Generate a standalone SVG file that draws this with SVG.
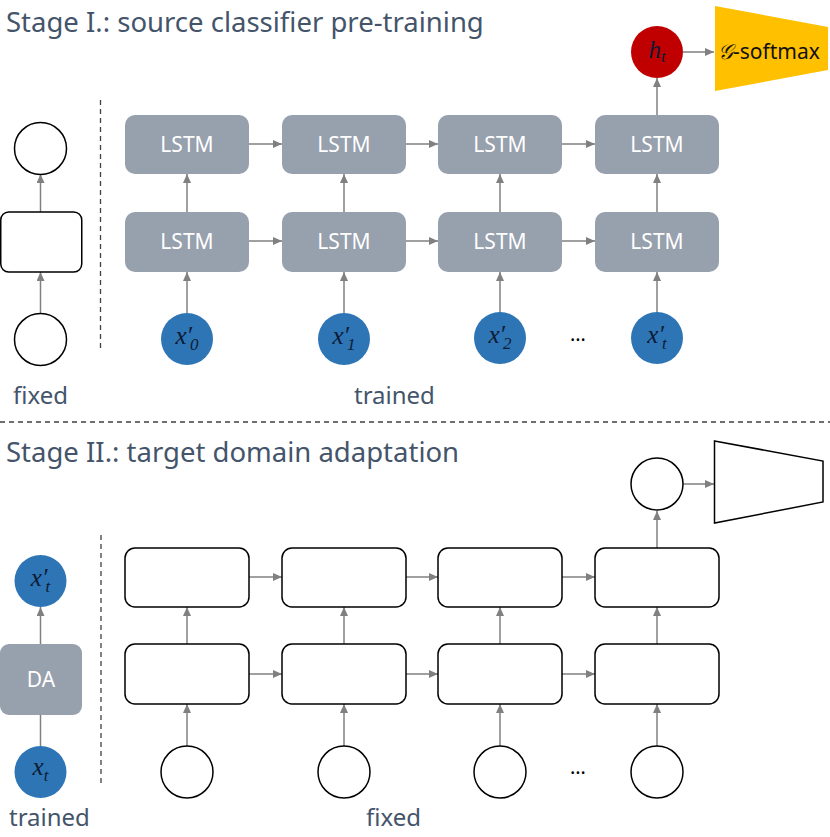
<svg xmlns="http://www.w3.org/2000/svg" width="830" height="837" viewBox="0 0 830 837">
<style>
.title{font-family:"Noto Sans","Open Sans",sans-serif;font-size:27.5px;fill:#44546a}
.lab{font-family:"Noto Sans","Open Sans",sans-serif;font-size:24px;fill:#44546a}
.box{fill:#97a0ad}
.obox{fill:#fff;stroke:#000;stroke-width:1.5}
.btxt{font-family:"Noto Sans","Open Sans",sans-serif;font-size:21px;fill:#fff;text-anchor:middle}
.blue{fill:#2e75b6}
.ocirc{fill:#fff;stroke:#000;stroke-width:1.5}
.math{font-family:"Liberation Serif","DejaVu Serif",serif;font-style:italic;font-size:25px;fill:#0d1a33;text-anchor:middle}
.sub{font-size:17px}
.conn line{stroke:#808080;stroke-width:1.5}
.dash{stroke:#404040;stroke-width:1.3;stroke-dasharray:5 4}
.dots{font-family:"Noto Sans",sans-serif;font-size:20px;fill:#000;text-anchor:middle}
</style>
<defs>
<marker id="ah" markerUnits="userSpaceOnUse" markerWidth="10" markerHeight="8" refX="9" refY="4" orient="auto">
<path d="M0,0 L9,4 L0,8 z" fill="#808080"/>
</marker>
</defs>
<rect width="830" height="837" fill="#fff"/>

<text class="title" x="6" y="32">Stage I.: source classifier pre-training</text>
<text class="title" x="6" y="462">Stage II.: target domain adaptation</text>
<line class="dash" x1="0" y1="422" x2="830" y2="422"/>
<line class="dash" x1="100.5" y1="100" x2="100.5" y2="348"/>
<line class="dash" x1="101" y1="535" x2="101" y2="783"/>

<g class="conn">
<line x1="40.5" y1="313" x2="40.5" y2="272" marker-end="url(#ah)"/>
<line x1="40.5" y1="212" x2="40.5" y2="174" marker-end="url(#ah)"/>
<line x1="187" y1="313" x2="187" y2="272" marker-end="url(#ah)"/>
<line x1="344" y1="313" x2="344" y2="272" marker-end="url(#ah)"/>
<line x1="500" y1="313" x2="500" y2="272" marker-end="url(#ah)"/>
<line x1="657" y1="313" x2="657" y2="272" marker-end="url(#ah)"/>
<line x1="187" y1="212" x2="187" y2="174" marker-end="url(#ah)"/>
<line x1="344" y1="212" x2="344" y2="174" marker-end="url(#ah)"/>
<line x1="500" y1="212" x2="500" y2="174" marker-end="url(#ah)"/>
<line x1="657" y1="212" x2="657" y2="174" marker-end="url(#ah)"/>
<line x1="249" y1="144" x2="282" y2="144" marker-end="url(#ah)"/>
<line x1="406" y1="144" x2="438" y2="144" marker-end="url(#ah)"/>
<line x1="562" y1="144" x2="595" y2="144" marker-end="url(#ah)"/>
<line x1="249" y1="241" x2="282" y2="241" marker-end="url(#ah)"/>
<line x1="406" y1="241" x2="438" y2="241" marker-end="url(#ah)"/>
<line x1="562" y1="241" x2="595" y2="241" marker-end="url(#ah)"/>
<line x1="657" y1="115" x2="657" y2="78" marker-end="url(#ah)"/>
<line x1="683" y1="52" x2="714" y2="52" marker-end="url(#ah)"/>

<line x1="40.5" y1="746" x2="40.5" y2="715"/>
<line x1="40.5" y1="644" x2="40.5" y2="607" marker-end="url(#ah)"/>
<line x1="187" y1="746" x2="187" y2="704" marker-end="url(#ah)"/>
<line x1="344" y1="746" x2="344" y2="704" marker-end="url(#ah)"/>
<line x1="500" y1="746" x2="500" y2="704" marker-end="url(#ah)"/>
<line x1="657" y1="746" x2="657" y2="704" marker-end="url(#ah)"/>
<line x1="187" y1="644" x2="187" y2="607" marker-end="url(#ah)"/>
<line x1="344" y1="644" x2="344" y2="607" marker-end="url(#ah)"/>
<line x1="500" y1="644" x2="500" y2="607" marker-end="url(#ah)"/>
<line x1="657" y1="644" x2="657" y2="607" marker-end="url(#ah)"/>
<line x1="249" y1="577" x2="282" y2="577" marker-end="url(#ah)"/>
<line x1="406" y1="577" x2="438" y2="577" marker-end="url(#ah)"/>
<line x1="562" y1="577" x2="595" y2="577" marker-end="url(#ah)"/>
<line x1="249" y1="674" x2="282" y2="674" marker-end="url(#ah)"/>
<line x1="406" y1="674" x2="438" y2="674" marker-end="url(#ah)"/>
<line x1="562" y1="674" x2="595" y2="674" marker-end="url(#ah)"/>
<line x1="657" y1="548" x2="657" y2="511" marker-end="url(#ah)"/>
<line x1="683" y1="484" x2="714" y2="484" marker-end="url(#ah)"/>
</g>

<!-- Stage I left legend -->
<g id="s1-leg-out"><circle class="ocirc" cx="40.5" cy="148.5" r="26"/></g>
<g id="s1-leg-box"><rect class="obox" x="0.75" y="212" width="81" height="60" rx="8"/></g>
<g id="s1-leg-in"><circle class="ocirc" cx="40.5" cy="339.5" r="26"/></g>
<text class="lab" x="13" y="404">fixed</text>
<text class="lab" x="354" y="404">trained</text>

<!-- Stage I LSTMs -->
<g id="s1-l2-0"><rect class="box" x="125" y="115" width="124" height="59" rx="10"/><text class="btxt" x="187" y="152">LSTM</text></g>
<g id="s1-l2-1"><rect class="box" x="282" y="115" width="124" height="59" rx="10"/><text class="btxt" x="344" y="152">LSTM</text></g>
<g id="s1-l2-2"><rect class="box" x="438" y="115" width="124" height="59" rx="10"/><text class="btxt" x="500" y="152">LSTM</text></g>
<g id="s1-l2-3"><rect class="box" x="595" y="115" width="124" height="59" rx="10"/><text class="btxt" x="657" y="152">LSTM</text></g>
<g id="s1-l1-0"><rect class="box" x="125" y="212" width="124" height="60" rx="10"/><text class="btxt" x="187" y="249">LSTM</text></g>
<g id="s1-l1-1"><rect class="box" x="282" y="212" width="124" height="60" rx="10"/><text class="btxt" x="344" y="249">LSTM</text></g>
<g id="s1-l1-2"><rect class="box" x="438" y="212" width="124" height="60" rx="10"/><text class="btxt" x="500" y="249">LSTM</text></g>
<g id="s1-l1-3"><rect class="box" x="595" y="212" width="124" height="60" rx="10"/><text class="btxt" x="657" y="249">LSTM</text></g>

<g id="s1-x0"><circle class="blue" cx="187" cy="339" r="26"/><text class="math" x="187" y="344">x′<tspan class="sub" dx="-2" dy="6">0</tspan></text></g>
<g id="s1-x1"><circle class="blue" cx="344" cy="339" r="26"/><text class="math" x="344" y="344">x′<tspan class="sub" dx="-2" dy="6">1</tspan></text></g>
<g id="s1-x2"><circle class="blue" cx="500" cy="338" r="26"/><text class="math" x="500" y="343">x′<tspan class="sub" dx="-2" dy="6">2</tspan></text></g>
<g id="s1-xt"><circle class="blue" cx="657" cy="338" r="26"/><text class="math" x="657" y="343">x′<tspan class="sub" dx="-2" dy="6">t</tspan></text></g>
<text class="dots" x="578" y="341">…</text>

<g id="s1-ht"><circle cx="657" cy="52" r="26" fill="#c00000"/><text class="math" x="657" y="58">h<tspan class="sub" dy="4">t</tspan></text></g>
<g id="s1-softmax"><polygon points="715,6 828,27 828,70 715,91" fill="#ffc000"/><text x="718" y="59" style="font-family:'Noto Sans','Open Sans',sans-serif;font-size:21px;fill:#111"><tspan style="font-family:'DejaVu Serif',serif;font-style:italic">𝒢</tspan>-softmax</text></g>

<!-- Stage II -->
<g id="s2-xtp"><circle class="blue" cx="40.5" cy="581" r="26"/><text class="math" x="40.5" y="586">x′<tspan class="sub" dx="-2" dy="6">t</tspan></text></g>
<g id="s2-da"><rect class="box" x="0" y="644" width="82" height="71" rx="9"/><text class="btxt" x="41" y="687">DA</text></g>
<g id="s2-xt"><circle class="blue" cx="40.5" cy="772" r="26"/><text class="math" x="40.5" y="775">x<tspan class="sub" dy="6">t</tspan></text></g>
<text class="lab" x="9" y="826">trained</text>
<text class="lab" x="366" y="826">fixed</text>

<g id="s2-l2-0"><rect class="obox" x="125" y="548" width="124" height="59" rx="10"/></g>
<g id="s2-l2-1"><rect class="obox" x="282" y="548" width="124" height="59" rx="10"/></g>
<g id="s2-l2-2"><rect class="obox" x="438" y="548" width="124" height="59" rx="10"/></g>
<g id="s2-l2-3"><rect class="obox" x="595" y="548" width="124" height="59" rx="10"/></g>
<g id="s2-l1-0"><rect class="obox" x="125" y="644" width="124" height="60" rx="10"/></g>
<g id="s2-l1-1"><rect class="obox" x="282" y="644" width="124" height="60" rx="10"/></g>
<g id="s2-l1-2"><rect class="obox" x="438" y="644" width="124" height="60" rx="10"/></g>
<g id="s2-l1-3"><rect class="obox" x="595" y="644" width="124" height="60" rx="10"/></g>
<g id="s2-in0"><circle class="ocirc" cx="187" cy="772" r="26"/></g>
<g id="s2-in1"><circle class="ocirc" cx="344" cy="772" r="26"/></g>
<g id="s2-in2"><circle class="ocirc" cx="500" cy="772" r="26"/></g>
<g id="s2-in3"><circle class="ocirc" cx="657" cy="772" r="26"/></g>
<text class="dots" x="578" y="774">…</text>
<g id="s2-h"><circle class="ocirc" cx="657" cy="484" r="26"/></g>
<g id="s2-softmax"><polygon points="714.5,441 823,461 823,502 714.5,523" fill="#fff" stroke="#000" stroke-width="1.5"/></g>
</svg>
